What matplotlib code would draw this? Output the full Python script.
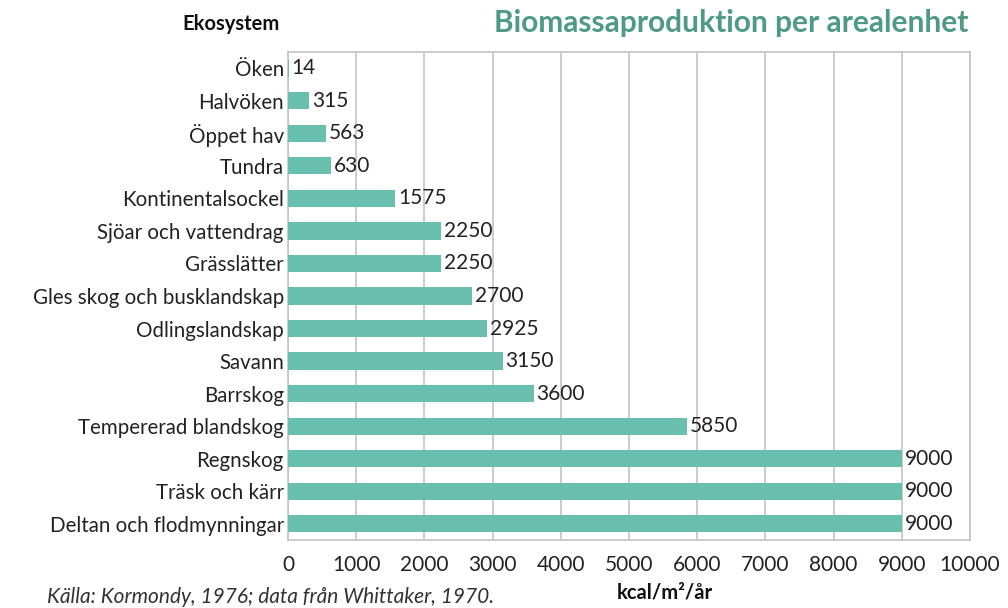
import matplotlib.pyplot as plt

# data, top to bottom
ekosystem = ['Öken', 'Halvöken', 'Öppet hav', 'Tundra', 'Kontinentalsockel',
             'Sjöar och vattendrag', 'Grässlätter', 'Gles skog och busklandskap',
             'Odlingslandskap', 'Savann', 'Barrskog', 'Tempererad blandskog',
             'Regnskog', 'Träsk och kärr', 'Deltan och flodmynningar']
produktion = [14, 315, 563, 630, 1575, 2250, 2250, 2700, 2925, 3150, 3600,
              5850, 9000, 9000, 9000]
xticks = list(range(0, 10001, 1000))

plt.rcParams['font.family'] = ['Lato', 'DejaVu Sans']

bar_color = '#68bfad'
title_color = '#4e9a84'
grid_color = '#c4c4c4'

fig = plt.figure(figsize=(10.08, 6.08), dpi=100)
ax = fig.add_axes([0.2857, 0.1118, 0.6766, 0.8027])

ypos = list(range(len(ekosystem)))
ax.barh(ypos, produktion, height=0.53, color=bar_color, zorder=3)
for y, v in zip(ypos, produktion):
    ax.text(v + 40, y, str(v), va='center', ha='left', fontsize=15,
            color='#222222', zorder=4)

ax.set_xlim(0, 10000)
ax.set_ylim(len(ekosystem) - 0.5, -0.5)
ax.set_yticks(ypos)
ax.set_yticklabels(ekosystem, fontsize=14.8, color='#222222')
ax.set_xticks(xticks)
ax.set_xticklabels([str(t) for t in xticks], fontsize=15, color='#222222')
ax.tick_params(axis='both', length=0)
ax.tick_params(axis='x', pad=11)
ax.tick_params(axis='y', pad=3)

ax.grid(axis='x', color=grid_color, linewidth=1.2, zorder=0)
for s in ax.spines.values():
    s.set_color(grid_color)
    s.set_linewidth(1.2)

fig.text(0.961, 0.962, 'Biomassaproduktion per arealenhet', ha='right',
         va='center', fontsize=21.5, fontweight='bold', color=title_color)
fig.text(0.277, 0.96, 'Ekosystem', ha='right', va='center', fontsize=14.5,
         fontweight='bold', color='#111111')
fig.text(0.047, 0.018, 'Källa: Kormondy, 1976; data från Whittaker, 1970.',
         ha='left', va='center', fontsize=15, style='italic', color='#333333')
fig.text(0.66, 0.025, 'kcal/m²/år', ha='center', va='center', fontsize=14.5,
         fontweight='bold', color='#111111')

fig.savefig('out.png', dpi=100)
